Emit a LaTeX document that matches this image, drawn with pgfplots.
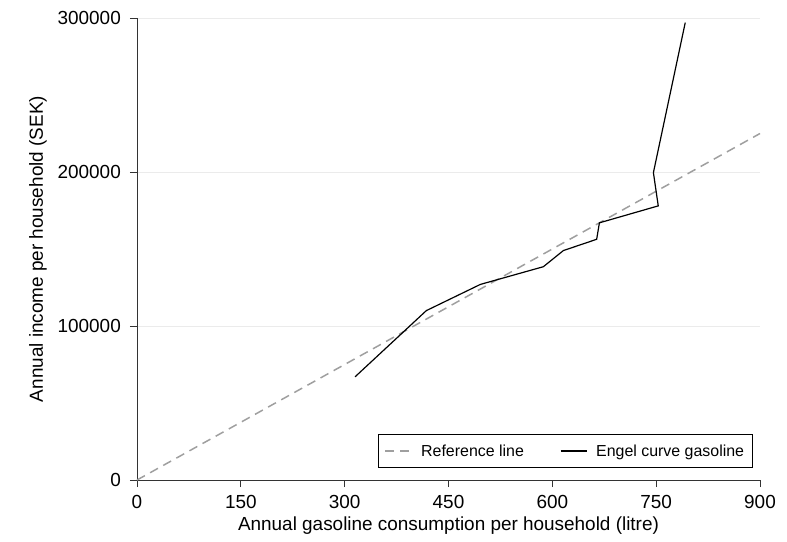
\documentclass[border=0pt]{standalone}
\usepackage{fontspec}
\setmainfont{Liberation Sans}
\usepackage{pgfplots}
\pgfplotsset{compat=1.18}
\usetikzlibrary{calc}

\begin{document}
\begin{tikzpicture}[font=\fontsize{19}{22}\selectfont]
\begin{axis}[
    name=ax,
    scale only axis,
    width=623bp, height=462bp,
    xmin=0, xmax=900, ymin=0, ymax=300000,
    axis lines=left,
    axis line style={black!80, line width=0.9pt, -},
    xtick={0,150,300,450,600,750,900},
    xticklabels={0,150,300,450,600,750,900},
    ytick={0,100000,200000,300000},
    yticklabels={0,100000,200000,300000},
    scaled ticks=false,
    tick align=outside,
    major tick length=7bp,
    tick style={black!80, line width=0.9pt},
    xticklabel style={inner sep=2bp, yshift=-6bp},
    yticklabel style={inner sep=1bp, xshift=-8bp},
    ymajorgrids,
    grid style={black!8, line width=0.6pt},
    xlabel={Annual gasoline consumption per household (litre)},
    ylabel={Annual income per household (SEK)},
    xlabel style={at={(axis description cs:0.5,-0.099)}, anchor=center},
    ylabel style={at={(axis description cs:-0.159,0.5)}, anchor=center},
    clip=false,
    legend columns=2,
    legend style={at={(0.988,0.026)}, anchor=south east, draw=black, line width=0.8pt,
        inner xsep=6bp, inner ysep=8bp, font=\fontsize{16}{19}\selectfont,
        /tikz/every odd column/.append style={column sep=7bp},
        /tikz/every even column/.append style={column sep=34bp}},
    legend cell align=left,
    legend image code/.code={\draw[#1] (0bp,0bp) -- (26bp,0bp);},
]
\addplot[gray!75, dash pattern=on 9bp off 6bp, line width=1.5pt] coordinates {(0,0) (900,225000)};
\addlegendentry{Reference line}
\addplot[black, line width=1.2pt] coordinates {
    (315,67000) (418,110000) (496,127000) (587,138500) (616,149000)
    (664,156300) (668,167000) (753,178000) (746,199600) (792,297000)
};
\addlegendentry{Engel curve gasoline}
\end{axis}
\pgfresetboundingbox
\path ($(ax.south west)+(-137bp,-61bp)$) rectangle ($(ax.north east)+(27bp,18bp)$);
\end{tikzpicture}
\end{document}
